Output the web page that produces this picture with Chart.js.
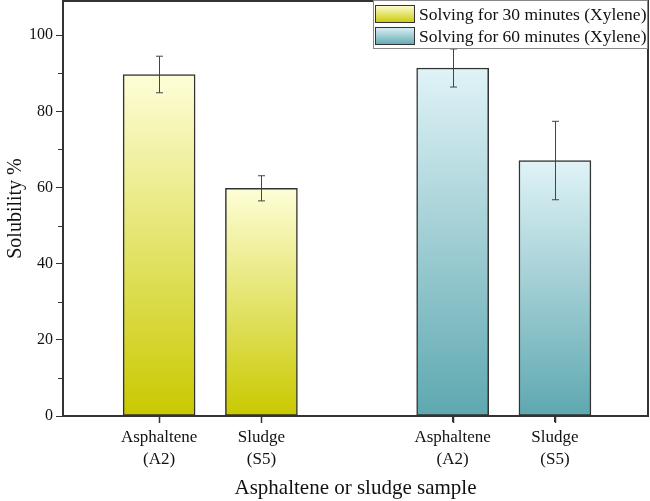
<!DOCTYPE html>
<html>
<head>
<meta charset="utf-8">
<script src="https://cdn.jsdelivr.net/npm/chart.js@4.4.1/dist/chart.umd.min.js"></script>
<style>
  html, body { margin: 0; padding: 0; background: #fff; }
  #wrap { width: 650px; height: 501px; }
</style>
</head>
<body>
<div id="wrap"><canvas id="chart" width="650" height="501"></canvas></div>
<script>
// sample names (two lines each) and where they sit on the x axis
const sampleLabels = [['Asphaltene', '(A2)'], ['Sludge', '(S5)']];
const pos30 = [1, 2];
const pos60 = [3.87, 4.87];

// solubility % and error (+/-)
const sol30 = [89.7, 59.8];
const err30 = [4.8, 3.3];
const sol60 = [91.4, 67.1];
const err60 = [5.0, 10.3];

const yTicks = [0, 20, 40, 60, 80, 100];
const yMinor = [10, 30, 50, 70, 90];

const seriesNames = ['Solving for 30 minutes (Xylene)', 'Solving for 60 minutes (Xylene)'];
const colors30 = ['#fefed8', '#c9c900'];
const colors60 = ['#e0f3f7', '#5ea8b0'];

const axisColor = '#333';
const serif = "'Liberation Serif', 'Times New Roman', serif";

function barGradient(cols) {
    return function(ctx) {
        const chart = ctx.chart;
        if (!chart.chartArea || !ctx.raw) return cols[1];
        const y = chart.scales.y;
        const top = y.getPixelForValue(ctx.raw.y);
        const base = y.getPixelForValue(0);
        const g = chart.ctx.createLinearGradient(0, top, 0, base);
        g.addColorStop(0, cols[0]);
        g.addColorStop(1, cols[1]);
        return g;
    };
}

const allPos = pos30.concat(pos60);
function labelFor(v) {
    let i = allPos.findIndex(p => Math.abs(p - v) < 0.01);
    return i < 0 ? '' : sampleLabels[i % 2];
}

function noPad(scale) {
    scale.paddingTop = 0;
    scale.paddingBottom = 0;
    scale.paddingLeft = 0;
    scale.paddingRight = 0;
}

// error bars, minor ticks, frame, legend
const extras = {
    id: 'extras',
    afterDatasetsDraw(chart) {
        const c = chart.ctx;
        const y = chart.scales.y;
        const xs = chart.scales.x;
        const errs = [err30, err60];
        c.save();
        c.strokeStyle = '#444';
        c.lineWidth = 1;
        chart.data.datasets.forEach((ds, di) => {
            const meta = chart.getDatasetMeta(di);
            meta.data.forEach((bar, i) => {
                const v = ds.data[i].y, e = errs[di][i];
                const x = Math.round(bar.x) + 0.5;
                const hi = y.getPixelForValue(v + e);
                const lo = y.getPixelForValue(v - e);
                c.beginPath();
                c.moveTo(x, hi); c.lineTo(x, lo);
                c.moveTo(x - 3.5, hi); c.lineTo(x + 3.5, hi);
                c.moveTo(x - 3.5, lo); c.lineTo(x + 3.5, lo);
                c.stroke();
            });
        });
        const a = chart.chartArea;
        c.strokeStyle = axisColor;
        c.lineWidth = 1;
        yMinor.forEach(v => {
            const py = Math.round(y.getPixelForValue(v)) + 0.5;
            c.beginPath();
            c.moveTo(a.left - 5, py); c.lineTo(a.left, py);
            c.stroke();
        });
        c.lineWidth = 1.5;
        allPos.forEach(v => {
            const px = Math.round(xs.getPixelForValue(v)) + 0.5;
            c.beginPath();
            c.moveTo(px, a.bottom); c.lineTo(px, a.bottom + 7);
            c.stroke();
        });
        c.lineWidth = 2;
        c.beginPath();
        c.moveTo(a.left, a.top); c.lineTo(a.right, a.top); c.lineTo(a.right, a.bottom);
        c.stroke();

        // legend box
        const lx = 373, ly = 0, lw = a.right - lx, lh = 49;
        c.fillStyle = '#fff';
        c.fillRect(lx, ly, lw, lh);
        c.strokeStyle = '#888';
        c.lineWidth = 1;
        c.strokeRect(lx + 0.5, ly + 0.5, lw - 1, lh - 1);
        [colors30, colors60].forEach((cols, i) => {
            const sy = 5 + i * 22;
            const g = c.createLinearGradient(0, sy, 0, sy + 18);
            g.addColorStop(0, cols[0]);
            g.addColorStop(1, cols[1]);
            c.fillStyle = g;
            c.fillRect(375, sy, 40, 18);
            c.strokeStyle = '#333';
            c.strokeRect(375.5, sy + 0.5, 39, 17);
            c.fillStyle = '#111';
            c.font = '17.5px ' + serif;
            c.textBaseline = 'middle';
            c.fillText(seriesNames[i], 419, sy + 10);
        });
        c.restore();
    }
};

new Chart(document.getElementById('chart'), {
    type: 'bar',
    data: {
        datasets: [
            {
                label: seriesNames[0],
                data: pos30.map((p, i) => ({x: p, y: sol30[i]})),
                backgroundColor: barGradient(colors30),
                borderColor: '#333',
                borderWidth: 1.5,
                borderSkipped: false,
                barThickness: 72,
                grouped: false
            },
            {
                label: seriesNames[1],
                data: pos60.map((p, i) => ({x: p, y: sol60[i]})),
                backgroundColor: barGradient(colors60),
                borderColor: '#333',
                borderWidth: 1.5,
                borderSkipped: false,
                barThickness: 72,
                grouped: false
            }
        ]
    },
    options: {
        responsive: false,
        animation: false,
        layout: { padding: { top: 1, right: 2, left: 0, bottom: 0 } },
        plugins: { legend: { display: false }, tooltip: { enabled: false } },
        scales: {
            x: {
                type: 'linear',
                min: 0.06,
                max: 5.78,
                offset: false,
                afterBuildTicks(scale) { scale.ticks = allPos.map(v => ({value: v})); },
                afterFit(scale) { scale.height = 85; noPad(scale); },
                grid: { offset: false, drawOnChartArea: false, drawTicks: true, tickLength: 6, color: axisColor, lineWidth: 1 },
                border: { color: axisColor, width: 2 },
                ticks: {
                    autoSkip: false,
                    maxRotation: 0,
                    padding: 4,
                    color: '#111',
                    font: { family: serif, size: 17, lineHeight: 1.3 },
                    callback: v => labelFor(v)
                },
                title: {
                    display: true,
                    text: 'Asphaltene or sludge sample',
                    color: '#111',
                    font: { family: serif, size: 21 },
                    padding: { top: 4, bottom: 0 }
                }
            },
            y: {
                min: 0,
                max: 109,
                afterBuildTicks(scale) { scale.ticks = yTicks.map(v => ({value: v})); },
                afterFit(scale) { scale.width = 63; noPad(scale); },
                grid: { drawOnChartArea: false, drawTicks: true, tickLength: 7, color: axisColor, lineWidth: 1 },
                border: { color: axisColor, width: 2 },
                ticks: {
                    padding: 3,
                    color: '#111',
                    font: { family: serif, size: 16 }
                },
                title: {
                    display: true,
                    text: 'Solubility %',
                    color: '#111',
                    font: { family: serif, size: 20 },
                    padding: { bottom: 2 }
                }
            }
        }
    },
    plugins: [extras]
});
</script>
</body>
</html>
